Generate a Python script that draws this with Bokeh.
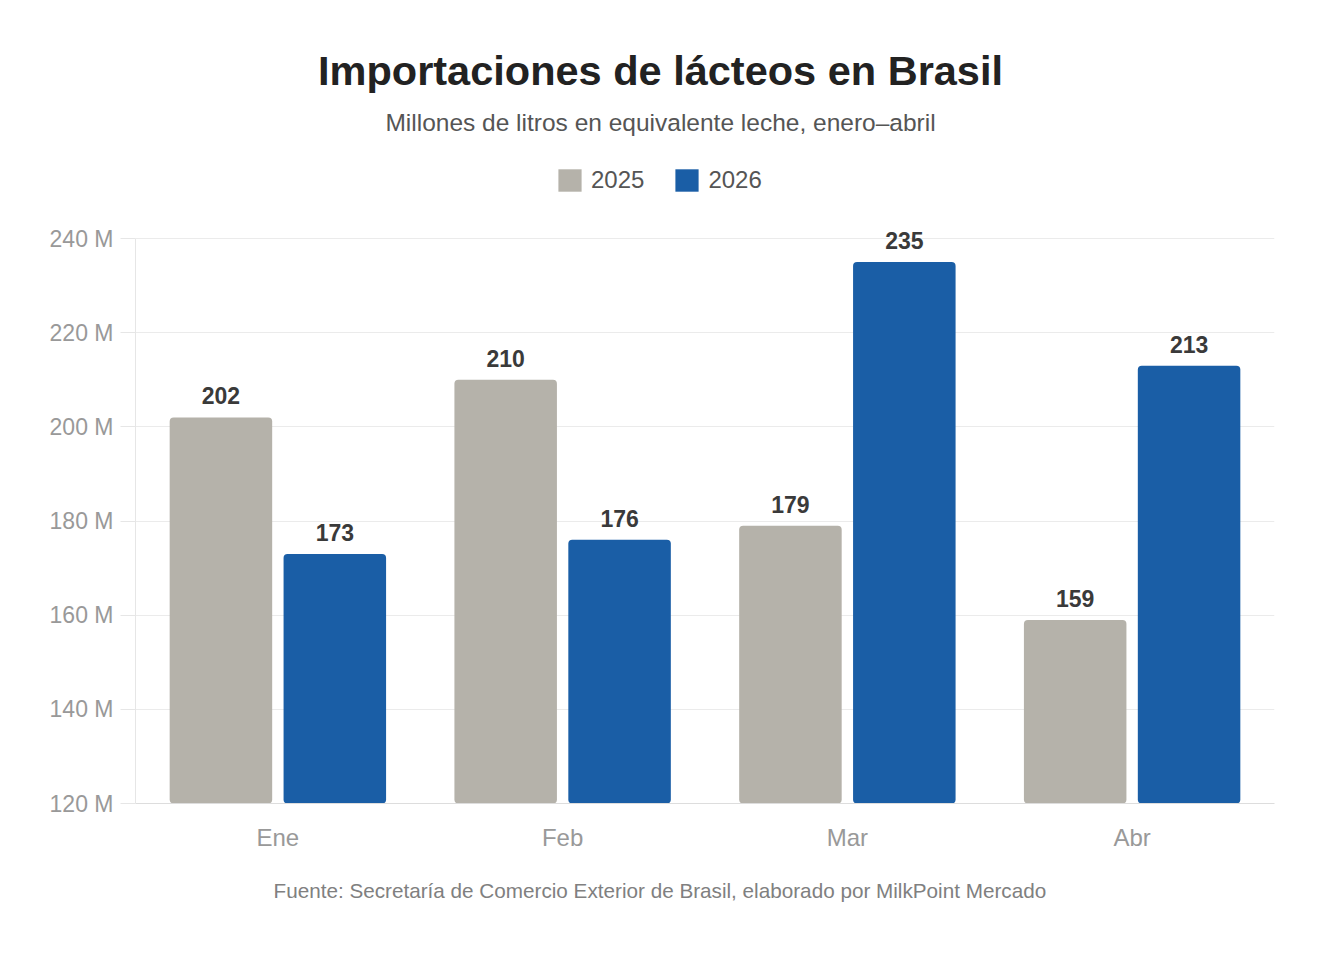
from bokeh.plotting import figure
from bokeh.models import (ColumnDataSource, FactorRange, Range1d, Label, Legend,
                          LegendItem, FixedTicker, Title)
from bokeh.transform import dodge
from bokeh.core.properties import value
from bokeh.embed import file_html
from bokeh.resources import INLINE

# ---- data ----
months = ["Ene", "Feb", "Mar", "Abr"]
series_names = ["2025", "2026"]
vals_2025 = [202, 210, 179, 159]
vals_2026 = [173, 176, 235, 213]
y_ticks = [120, 140, 160, 180, 200, 220, 240]
y_tick_labels = ["120 M", "140 M", "160 M", "180 M", "200 M", "220 M", "240 M"]

title_text = "Importaciones de lácteos en Brasil"
subtitle_text = "Millones de litros en equivalente leche, enero–abril"
footer_text = "Fuente: Secretaría de Comercio Exterior de Brasil, elaborado por MilkPoint Mercado"

FONT = "Liberation Sans"
C25 = "#b5b2aa"
C26 = "#1a5ea6"

src = ColumnDataSource(dict(
    month=months,
    v25=vals_2025,
    v26=vals_2026,
    l25=[str(v) for v in vals_2025],
    l26=[str(v) for v in vals_2026],
))

W, H = 1304, 951
LEFT, RIGHT, BOTTOM = 135, 30, 148
FRAME_H = H - BOTTOM            # frame reaches the canvas top (titles live inside it)
Y0, Y1 = y_ticks[0], y_ticks[-1]
AXIS_PX = 565                   # pixel height of the 120..240 span
y_top = Y0 + FRAME_H * (Y1 - Y0) / AXIS_PX

p = figure(x_range=FactorRange(factors=months, range_padding=0),
           y_range=Range1d(Y0, y_top), width=W, height=H,
           output_backend="svg", toolbar_location=None,
           min_border_left=LEFT, min_border_right=RIGHT,
           min_border_top=0, min_border_bottom=BOTTOM)
p.outline_line_color = None
p.background_fill_color = "white"
p.border_fill_color = "white"

r25 = p.vbar(x=dodge("month", -0.2, range=p.x_range), top="v25", bottom=Y0 - 10,
             width=0.36, source=src, fill_color=C25, line_color=None,
             border_radius=4)
r26 = p.vbar(x=dodge("month", 0.2, range=p.x_range), top="v26", bottom=Y0 - 10,
             width=0.36, source=src, fill_color=C26, line_color=None,
             border_radius=4)

for col, lab, off in (("v25", "l25", -0.2), ("v26", "l26", 0.2)):
    p.text(x=dodge("month", off, range=p.x_range), y=col, text=lab, source=src,
           text_align="center", text_baseline="bottom", y_offset=-13,
           text_font=value(FONT), text_font_style="bold",
           text_font_size="23px", text_color="#3a3a3a")

# axes
p.yaxis.ticker = FixedTicker(ticks=y_ticks)
p.yaxis.bounds = (Y0, Y1)
p.yaxis.major_label_overrides = {t: l for t, l in zip(y_ticks, y_tick_labels)}
p.yaxis.major_label_text_font = FONT
p.yaxis.major_label_text_font_size = "23px"
p.yaxis.major_label_text_color = "#999999"
p.yaxis.axis_line_color = "#e6e6e6"
p.yaxis.major_tick_line_color = "#e6e6e6"
p.yaxis.major_tick_out = 15
p.yaxis.major_tick_in = 0
p.yaxis.minor_tick_line_color = None
p.yaxis.major_label_standoff = 7

p.xaxis.axis_line_color = "#dddddd"
p.xaxis.major_tick_line_color = None
p.xaxis.minor_tick_line_color = None
p.xaxis.major_label_text_font = FONT
p.xaxis.major_label_text_font_size = "24px"
p.xaxis.major_label_text_color = "#999999"
p.xaxis.major_label_standoff = 14

p.xgrid.grid_line_color = None
p.ygrid.grid_line_color = "#ebebeb"
p.ygrid.ticker = FixedTicker(ticks=y_ticks)

# titles (inside the tall frame, above the 240 line)
cx = 660 - LEFT
p.add_layout(Label(x=cx, y=FRAME_H - 70, x_units="screen", y_units="screen",
                   text=title_text, text_align="center", text_baseline="middle",
                   text_font=FONT, text_font_style="bold", text_font_size="41.5px",
                   text_color="#222222"))
p.add_layout(Label(x=cx, y=FRAME_H - 122, x_units="screen", y_units="screen",
                   text=subtitle_text, text_align="center", text_baseline="middle",
                   text_font=FONT, text_font_size="24.5px", text_color="#555555"))

footer = Title(text=footer_text, align="left", text_font=FONT,
               text_font_size="20.7px", text_font_style="normal",
               text_color="#808080", standoff=46, offset=273 - LEFT)
p.add_layout(footer, "below")

legend = Legend(items=[LegendItem(label=series_names[0], renderers=[r25]),
                       LegendItem(label=series_names[1], renderers=[r26])],
                orientation="horizontal", location=(420, FRAME_H - 201 + 7),
                label_text_font=FONT, label_text_font_size="24px",
                label_text_color="#555555", glyph_width=29, glyph_height=28,
                spacing=28, label_standoff=7, padding=10, margin=0,
                border_line_color=None, background_fill_alpha=0)
p.add_layout(legend, "center")

open("out.html", "w").write(file_html(p, INLINE))
